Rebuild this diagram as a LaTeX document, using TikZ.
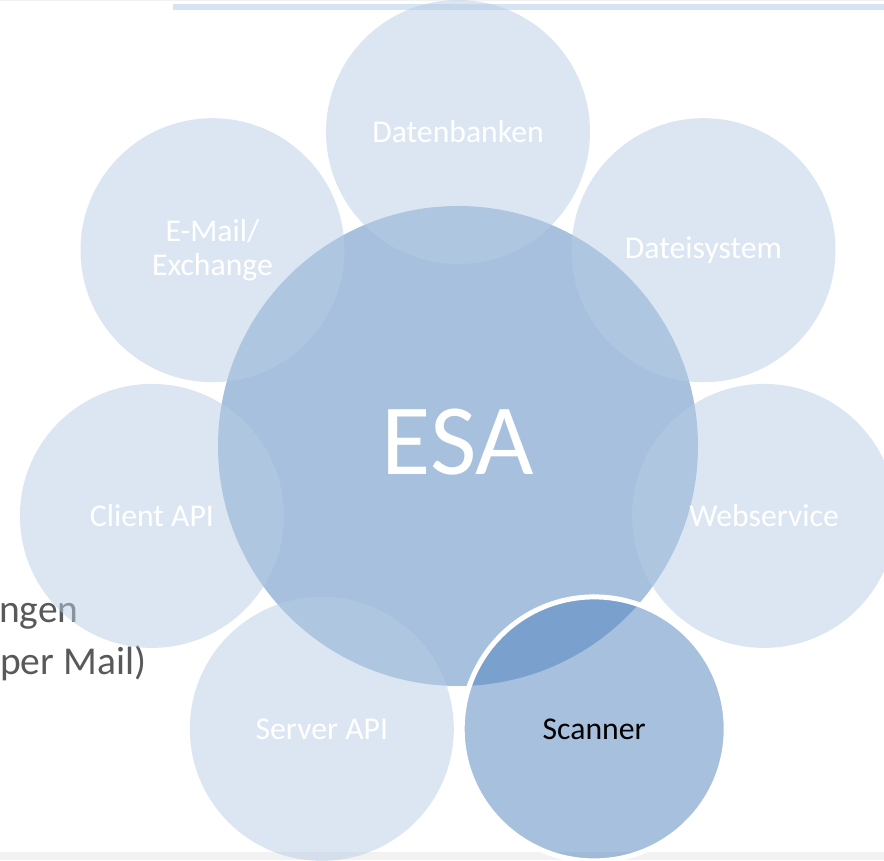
\documentclass[tikz,border=0pt]{standalone}
\usepackage{fontspec}
\setmainfont{Carlito}

\definecolor{accentblue}{HTML}{4F81BD}
\definecolor{lightblue}{HTML}{B9CDE5}
\definecolor{barblue}{HTML}{D6E3F3}
\definecolor{stripgray}{HTML}{F2F2F2}
\definecolor{textgray}{HTML}{595959}

\begin{document}
\begin{tikzpicture}[x=1pt, y=1pt,
    hub/.style={circle, inner sep=0pt, minimum size=480pt, fill=accentblue, fill opacity=0.5, text opacity=1, text=white, font=\fontsize{101}{105}\selectfont},
    satellite/.style={circle, inner sep=0pt, minimum size=264pt, fill=lightblue, fill opacity=0.5, text opacity=1, text=white, align=center, font=\fontsize{31.7}{34}\selectfont},
    active/.style={satellite, fill=accentblue, draw=white, draw opacity=1, line width=5pt, text=black},
    note/.style={anchor=base west, inner sep=0pt, text=textgray, font=\fontsize{39.5}{47}\selectfont}
  ]
    \clip (0,0) rectangle (884,860);
    \useasboundingbox (0,0) rectangle (884,860);

    % page decoration
    \fill[stripgray] (0,858.5) rectangle (884,860);
    \fill[barblue] (173,849.7) rectangle (884,855.7);
    \fill[stripgray] (0,0) rectangle (884,8);

    % cut-off slide text
    \node[note] (noteA) at (-1,237) {ngen};
    \node[note] (noteB) at (0,185) {per Mail)};

    % hub and satellites
    \node[hub] (esa) at (458,414) {\raisebox{8pt}{ESA}};
    \node[satellite] (db) at (458,728) {Datenbanken};
    \node[satellite] (fs) at (703.5,609.8) {Dateisystem};
    \node[satellite] (ws) at (764.1,344.1) {Webservice};
    \node[satellite] (srv) at (321.8,131.1) {Server API};
    \node[satellite] (cli) at (151.9,344.1) {Client API};
    \node[satellite] (mail) at (212.5,609.8) {E-Mail/\\Exchange};
    \node[active] (scan) at (594.2,131.1) {Scanner};
  \end{tikzpicture}
\end{document}
